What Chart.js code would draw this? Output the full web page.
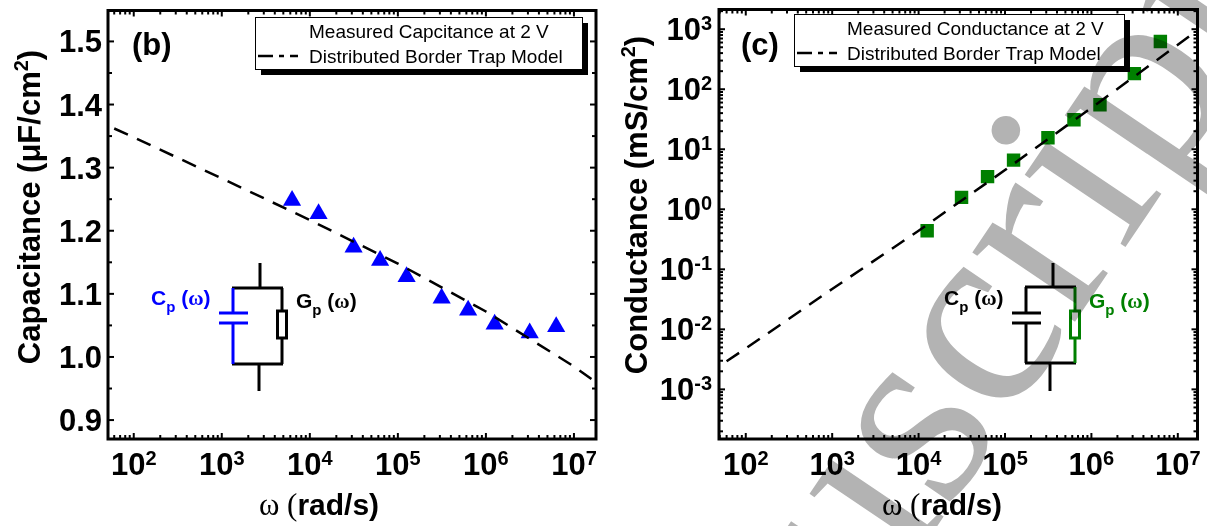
<!DOCTYPE html>
<html>
<head>
<meta charset="utf-8">
<title>Capacitance and conductance</title>
<script src="https://cdn.jsdelivr.net/npm/chart.js@4"></script>
<style>
  html, body { margin: 0; padding: 0; background: #fff; overflow: hidden; }
  #wrap { position: relative; width: 1207px; height: 526px; overflow: hidden; }
  canvas { position: absolute; top: 0; }
  #chartB { left: 0; }
  #chartC { left: 607px; }
  #mark { position: absolute; left: 0; top: 0; mix-blend-mode: multiply; pointer-events: none; }
</style>
</head>
<body>
<div id="wrap">
  <canvas id="chartB" width="607" height="526"></canvas>
  <canvas id="chartC" width="600" height="526"></canvas>
  <svg id="mark" width="1207" height="526">
    <text transform="translate(594 1035) rotate(-56)" font-family="Liberation Serif" font-size="270" fill="#b3b3b3">Manuscript</text>
  </svg>
</div>
<script>
// data
const capOmega = [6283, 12566, 31416, 62832, 125664, 314159, 628318, 1256640, 3141590, 6283190];
const capMeasured = [1.248, 1.227, 1.174, 1.153, 1.127, 1.093, 1.074, 1.052, 1.038, 1.048];
const capModelOmega = [60, 100, 1000, 10000, 100000, 1000000, 10000000, 15800000];
const capModel = [1.362, 1.348, 1.283, 1.217, 1.148, 1.072, 0.985, 0.965];

const condOmega = [12566, 31416, 62832, 125664, 314159, 628318, 1256640, 3141590, 6283190];
const condMeasured = [0.44, 1.58, 3.5, 6.6, 15.6, 31, 55, 182, 626];
const condModelOmega = [60, 100, 1000, 10000, 100000, 1000000, 10000000, 15100000];
const condModel = [0.00295, 0.0048, 0.047, 0.44, 4.5, 49, 550, 850];

const omegaExps = [2, 3, 4, 5, 6, 7];
const condExps = [-3, -2, -1, 0, 1, 2, 3];
const capTicks = ["0.9", "1.0", "1.1", "1.2", "1.3", "1.4", "1.5"];
const capMinorTicks = [0.95, 1.05, 1.15, 1.25, 1.35, 1.45];
const logMinorSteps = [2, 3, 4, 5, 6, 7, 8, 9];

const sans = '"Liberation Sans", Arial, sans-serif';
const serif = '"Liberation Serif", serif';

// majors and minors of a log axis, cut to its range
function logTicks(exps, min, max) {
  const ticks = [];
  for (let e = exps[0] - 1; e <= exps[exps.length - 1]; e++) {
    if (e >= exps[0]) ticks.push({ value: Math.pow(10, e), major: true, exp: e });
    logMinorSteps.forEach(m => ticks.push({ value: m * Math.pow(10, e), major: false }));
  }
  return ticks.filter(t => t.value >= min && t.value <= max);
}

// draws a line of mixed fonts, used for sub and superscripts
function drawRuns(ctx, x, y, runs, align) {
  let total = 0;
  runs.forEach(r => { ctx.font = r.font; total += ctx.measureText(r.t).width; });
  let px = align === "center" ? x - total / 2 : align === "right" ? x - total : x;
  ctx.textAlign = "left";
  ctx.textBaseline = "alphabetic";
  runs.forEach(r => {
    ctx.font = r.font;
    ctx.fillStyle = r.color || "#000";
    ctx.fillText(r.t, px, y + (r.dy || 0));
    px += ctx.measureText(r.t).width;
  });
}

function line(ctx, x1, y1, x2, y2) {
  ctx.beginPath();
  ctx.moveTo(x1, y1);
  ctx.lineTo(x2, y2);
  ctx.stroke();
}

function powerRuns(exp) {
  return [
    { t: "10", font: "bold 31px " + sans },
    { t: String(exp), font: "bold 20px " + sans, dy: -10 }
  ];
}

// the frame with inward ticks on all four sides
function drawFrame(ctx, chart) {
  const a = chart.chartArea;
  const xs = chart.scales.x, ys = chart.scales.y;
  ctx.strokeStyle = "#000";
  ctx.lineWidth = 2;
  xs.ticks.forEach(t => {
    const p = xs.getPixelForValue(t.value), len = t.major ? 6 : 4;
    line(ctx, p, a.bottom, p, a.bottom - len);
    line(ctx, p, a.top, p, a.top + len);
  });
  ys.ticks.forEach(t => {
    const p = ys.getPixelForValue(t.value), len = t.major ? 6 : 4;
    line(ctx, a.left, p, a.left + len, p);
    line(ctx, a.right, p, a.right - len, p);
  });
  ctx.lineWidth = 3;
  ctx.strokeRect(a.left, a.top, a.right - a.left, a.bottom - a.top);
}

function drawLegend(ctx, cfg) {
  const l = cfg.legend;
  ctx.fillStyle = "#000";
  ctx.fillRect(l.x + 6, l.y + 6, l.w, l.h);
  ctx.fillStyle = "#fff";
  ctx.fillRect(l.x, l.y, l.w, l.h);
  ctx.strokeStyle = "#000";
  ctx.lineWidth = 1;
  ctx.strokeRect(l.x + 0.5, l.y + 0.5, l.w, l.h);
  Chart.helpers.drawPoint(ctx, { pointStyle: cfg.pointStyle, radius: cfg.pointRadius, rotation: 0 }, l.markX, l.row1 - 6);
  ctx.fillStyle = "#000";
  ctx.lineWidth = 2.5;
  ctx.setLineDash([15, 6, 5, 6, 15]);
  line(ctx, l.x + 3, l.row2 - 7, l.x + 43, l.row2 - 7);
  ctx.setLineDash([]);
  ctx.font = "19px " + sans;
  ctx.textAlign = "left";
  ctx.textBaseline = "alphabetic";
  ctx.fillText(cfg.legendText, l.textX, l.row1);
  ctx.fillText("Distributed Border Trap Model", l.textX, l.row2);
}

// the small parallel circuit drawn inside each panel
function drawCircuit(ctx, c) {
  const w = 3;
  ctx.lineWidth = w;
  ctx.strokeStyle = "#000";
  line(ctx, c.topX, 263, c.topX, c.top);
  line(ctx, c.left - 1, c.top, c.right + 1, c.top);
  line(ctx, c.left - 1, c.bottom, c.right + 1, c.bottom);
  line(ctx, c.botX, c.bottom, c.botX, 391);
  ctx.strokeStyle = c.capColor;
  line(ctx, c.left, c.top, c.left, 313);
  line(ctx, c.left - 14, 313, c.left + 15, 313);
  line(ctx, c.left - 14, 323, c.left + 15, 323);
  line(ctx, c.left, 323, c.left, c.bottom);
  ctx.strokeStyle = c.resColor;
  line(ctx, c.right, c.top, c.right, 311);
  ctx.strokeRect(c.right - 4.5, 311, 9, 27);
  line(ctx, c.right, 338, c.right, c.bottom);
  drawRuns(ctx, c.capTextX, 305, [
    { t: "C", font: "bold 21px " + sans, color: c.capColor },
    { t: "p", font: "bold 15px " + sans, color: c.capColor, dy: 7 },
    { t: " (", font: "bold 21px " + sans, color: c.capColor },
    { t: "ω", font: "bold 21px " + serif, color: c.capColor },
    { t: ")", font: "bold 21px " + sans, color: c.capColor }
  ]);
  drawRuns(ctx, c.resTextX, 308, [
    { t: "G", font: "bold 21px " + sans, color: c.resColor },
    { t: "p", font: "bold 15px " + sans, color: c.resColor, dy: 7 },
    { t: " (", font: "bold 21px " + sans, color: c.resColor },
    { t: "ω", font: "bold 21px " + serif, color: c.resColor },
    { t: ")", font: "bold 21px " + sans, color: c.resColor }
  ]);
}

function makeChart(id, cfg) {
  const annotations = {
    id: "annotations",
    afterDatasetsDraw(chart) {
      const ctx = chart.ctx, a = chart.chartArea;
      ctx.save();
      drawFrame(ctx, chart);
      drawLegend(ctx, cfg);
      drawCircuit(ctx, cfg.circuit);

      // x tick labels
      chart.scales.x.ticks.filter(t => t.major).forEach(t => {
        drawRuns(ctx, chart.scales.x.getPixelForValue(t.value), 475, powerRuns(t.exp), "center");
      });
      // y tick labels
      chart.scales.y.ticks.filter(t => t.major).forEach(t => {
        const p = chart.scales.y.getPixelForValue(t.value);
        const runs = t.exp !== undefined ? powerRuns(t.exp) : [{ t: t.text, font: "bold 31px " + sans }];
        drawRuns(ctx, cfg.yLabelRight, p + 11, runs, "right");
      });

      drawRuns(ctx, cfg.panelX, 55, [{ t: cfg.panel, font: "bold 31px " + sans }]);

      // x title
      drawRuns(ctx, cfg.xTitleX, 515, [
        { t: "ω ", font: "31px " + serif },
        { t: "(", font: "31px " + serif },
        { t: "rad/s)", font: "bold 30px " + sans }
      ], "center");

      // y title
      ctx.translate(cfg.yTitleX, cfg.yTitleY);
      ctx.rotate(-Math.PI / 2);
      drawRuns(ctx, 0, 0, cfg.yTitle, "center");
      ctx.restore();
    }
  };

  return new Chart(document.getElementById(id), {
    type: "scatter",
    data: {
      datasets: [
        {
          label: "Distributed Border Trap Model",
          data: cfg.modelX.map((x, i) => ({ x: x, y: cfg.modelY[i] })),
          showLine: true,
          tension: 0,
          borderColor: "#000",
          borderWidth: 2.5,
          borderDash: [15, 10],
          pointRadius: 0
        },
        {
          label: cfg.legendText,
          data: cfg.measuredX.map((x, i) => ({ x: x, y: cfg.measuredY[i] })),
          pointStyle: cfg.pointStyle,
          pointRadius: cfg.pointRadius,
          pointHoverRadius: cfg.pointRadius,
          backgroundColor: cfg.color,
          borderColor: cfg.color,
          borderWidth: 0
        }
      ]
    },
    options: {
      responsive: false,
      animation: false,
      devicePixelRatio: 1,
      layout: { padding: cfg.padding },
      plugins: { legend: { display: false }, tooltip: { enabled: false } },
      scales: {
        x: {
          type: "logarithmic",
          min: cfg.xMin,
          max: cfg.xMax,
          grid: { display: false },
          border: { display: false },
          ticks: { display: false },
          afterBuildTicks(s) { s.ticks = logTicks(omegaExps, cfg.xMin, cfg.xMax); },
          afterFit(s) { s.height = 87; }
        },
        y: {
          type: cfg.yType,
          min: cfg.yMin,
          max: cfg.yMax,
          grid: { display: false },
          border: { display: false },
          ticks: { display: false },
          afterBuildTicks(s) { s.ticks = cfg.yTicks; },
          afterFit(s) { s.width = cfg.yWidth; }
        }
      }
    },
    plugins: [annotations]
  });
}

const capMajor = capTicks.map(t => ({ value: parseFloat(t), major: true, text: t }));
const capMinor = capMinorTicks.map(v => ({ value: v, major: false }));

makeChart("chartB", {
  panel: "(b)", panelX: 132,
  color: "#0000ff", pointStyle: "triangle", pointRadius: 10.5,
  measuredX: capOmega, measuredY: capMeasured,
  modelX: capModelOmega, modelY: capModel,
  legendText: "Measured Capcitance at 2 V",
  legend: { x: 255, y: 17, w: 327, h: 52, markX: 281, row1: 38, row2: 63, textX: 309 },
  padding: { top: 7, right: 11, bottom: 0, left: 0 },
  yWidth: 108,
  xMin: 51, xMax: 1.78e7,
  yType: "linear", yMin: 0.87, yMax: 1.549,
  yTicks: capMajor.concat(capMinor),
  yLabelRight: 102,
  yTitleX: 40, yTitleY: 207,
  yTitle: [
    { t: "Capacitance (μF/cm", font: "bold 31px " + sans },
    { t: "2", font: "bold 20px " + sans, dy: -12 },
    { t: ")", font: "bold 31px " + sans }
  ],
  xTitleX: 319,
  circuit: { topX: 260, botX: 259, left: 233, right: 282, top: 288, bottom: 364,
    capColor: "#0000ff", resColor: "#000", capTextX: 151, resTextX: 296 }
});

makeChart("chartC", {
  panel: "(c)", panelX: 134,
  color: "#008000", pointStyle: "rect", pointRadius: 9.5,
  measuredX: condOmega, measuredY: condMeasured,
  modelX: condModelOmega, modelY: condModel,
  legendText: "Measured Conductance at 2 V",
  legend: { x: 187, y: 14, w: 330, h: 52, markX: 212, row1: 35, row2: 60, textX: 240 },
  padding: { top: 6, right: 2, bottom: 0, left: 0 },
  yWidth: 112,
  xMin: 49, xMax: 1.69e7,
  yType: "logarithmic", yMin: 1.49e-4, yMax: 2130,
  yTicks: logTicks(condExps, 1.49e-4, 2130),
  yLabelRight: 105,
  yTitleX: 40, yTitleY: 205,
  yTitle: [
    { t: "Conductance (mS/cm", font: "bold 31px " + sans },
    { t: "2", font: "bold 20px " + sans, dy: -12 },
    { t: ")", font: "bold 31px " + sans }
  ],
  xTitleX: 335,
  circuit: { topX: 446, botX: 443, left: 419, right: 468, top: 287, bottom: 363,
    capColor: "#000", resColor: "#008000", capTextX: 337, resTextX: 482 }
});
</script>
</body>
</html>
